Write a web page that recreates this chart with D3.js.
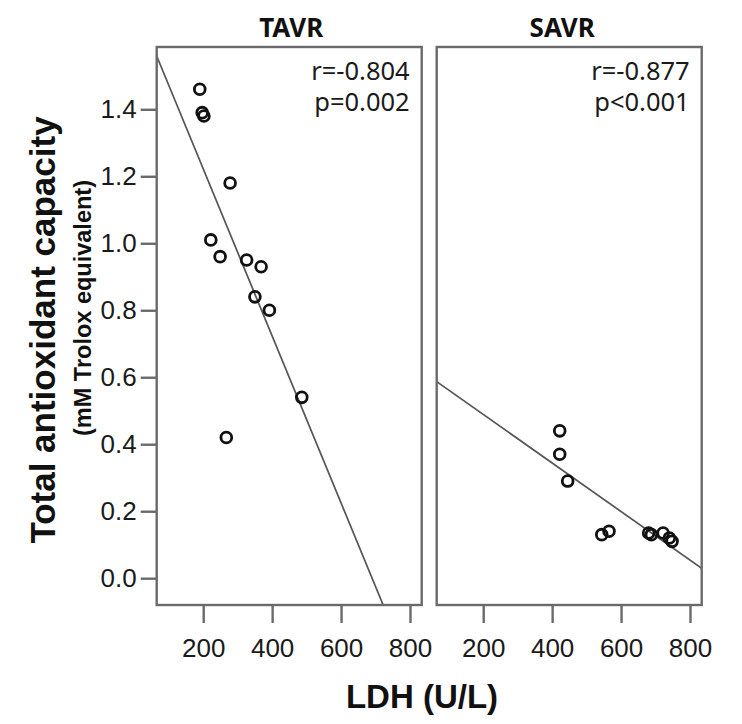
<!DOCTYPE html>
<html>
<head>
<meta charset="utf-8">
<script src="https://cdn.jsdelivr.net/npm/d3@7/dist/d3.min.js"></script>
<style>
	body { margin: 0; background: #fff; }
</style>
</head>
<body>
<div id="chart"></div>
<script>

// values
var panels = ['TAVR', 'SAVR'];

var tavrLdh = [190, 197, 202, 278, 222, 249, 326, 368, 350, 392, 486, 267];
var tavrTac = [1.46, 1.39, 1.38, 1.18, 1.01, 0.96, 0.95, 0.93, 0.84, 0.80, 0.54, 0.42];

var savrLdh = [422, 422, 445, 544, 565, 680, 688, 722, 740, 748];
var savrTac = [0.44, 0.37, 0.29, 0.13, 0.14, 0.135, 0.13, 0.135, 0.12, 0.11];

// fit lines as drawn: intercept, slope
var fitIntercept = [1.721, 0.634];
var fitSlope = [-0.002494, -0.000725];

var statR = ['r=-0.804', 'r=-0.877'];
var statP = ['p=0.002', 'p<0.001'];

var xTicks = [200, 400, 600, 800];
var yTicks = [0.0, 0.2, 0.4, 0.6, 0.8, 1.0, 1.2, 1.4];

var width = 742, height = 724;
var panelW = 265, panelH = 558, panelTop = 47;
var panelLeft = [156.7, 436.7];

var svg = d3.select('#chart').append('svg')
	.attr('width', width)
	.attr('height', height);

var x = d3.scaleLinear().domain([65, 834]).range([0, panelW]);
var y = d3.scaleLinear().domain([-0.08, 1.586]).range([panelH, 0]);

var series = [
	d3.zip(tavrLdh, tavrTac),
	d3.zip(savrLdh, savrTac)
];

panels.forEach(function(name, i) {
	var g = svg.append('g')
		.attr('transform', 'translate(' + panelLeft[i] + ',' + panelTop + ')');

	g.append('clipPath').attr('id', 'clip' + i)
		.append('rect').attr('width', panelW).attr('height', panelH);

	// x axis
	var xa = g.append('g')
		.attr('transform', 'translate(0,' + panelH + ')')
		.call(d3.axisBottom(x).tickValues(xTicks).tickSize(18).tickPadding(16).tickFormat(d3.format('d')));
	xa.select('.domain').remove();
	xa.selectAll('line').attr('stroke', '#6a6a6a').attr('stroke-width', 2.4);
	xa.selectAll('text')
		.attr('font-family', 'Liberation Sans, Arial, sans-serif')
		.attr('font-size', 26).attr('fill', '#1a1a1a');

	if (i === 0) {
		var ya = g.append('g')
			.call(d3.axisLeft(y).tickValues(yTicks).tickSize(16).tickPadding(4).tickFormat(d3.format('.1f')));
		ya.select('.domain').remove();
		ya.selectAll('line').attr('stroke', '#6a6a6a').attr('stroke-width', 2.4);
		ya.selectAll('text')
			.attr('font-family', 'Liberation Sans, Arial, sans-serif')
			.attr('font-size', 26).attr('fill', '#1a1a1a');
	}

	// fit line
	var dom = x.domain();
	g.append('line')
		.attr('clip-path', 'url(#clip' + i + ')')
		.attr('x1', x(dom[0])).attr('y1', y(fitIntercept[i] + fitSlope[i] * dom[0]))
		.attr('x2', x(dom[1])).attr('y2', y(fitIntercept[i] + fitSlope[i] * dom[1]))
		.attr('stroke', '#555').attr('stroke-width', 1.7);

	g.selectAll('circle')
		.data(series[i])
		.enter().append('circle')
		.attr('cx', function(d) { return x(d[0]); })
		.attr('cy', function(d) { return y(d[1]); })
		.attr('r', 5.4)
		.attr('fill', 'none')
		.attr('stroke', '#111')
		.attr('stroke-width', 2.8);

	// frame
	g.append('rect')
		.attr('width', panelW).attr('height', panelH)
		.attr('fill', 'none')
		.attr('stroke', '#6a6a6a')
		.attr('stroke-width', 2.4);

	g.append('text')
		.attr('x', panelW - 12).attr('y', 33)
		.attr('text-anchor', 'end')
		.attr('font-family', 'Noto Sans, sans-serif')
		.attr('font-size', 25.5).attr('fill', '#1a1a1a')
		.text(statR[i]);
	g.append('text')
		.attr('x', panelW - 12).attr('y', 64)
		.attr('text-anchor', 'end')
		.attr('font-family', 'Noto Sans, sans-serif')
		.attr('font-size', 25.5).attr('fill', '#1a1a1a')
		.text(statP[i]);

	g.append('text')
		.attr('x', panelW / 2 + (i === 0 ? 2 : -7)).attr('y', -10)
		.attr('text-anchor', 'middle')
		.attr('font-family', 'Noto Sans, sans-serif')
		.attr('font-weight', 'bold')
		.attr('font-size', 26).attr('fill', '#111')
		.text(name);
});

// axis titles
svg.append('text')
	.attr('x', 422).attr('y', 708)
	.attr('text-anchor', 'middle')
	.attr('font-family', 'Liberation Sans, Arial, sans-serif')
	.attr('font-weight', 'bold')
	.attr('font-size', 33).attr('fill', '#111')
	.text('LDH (U/L)');

svg.append('text')
	.attr('transform', 'translate(55,330) rotate(-90)')
	.attr('text-anchor', 'middle')
	.attr('font-family', 'Liberation Sans, Arial, sans-serif')
	.attr('font-weight', 'bold')
	.attr('font-size', 35).attr('fill', '#111')
	.text('Total antioxidant capacity');

svg.append('text')
	.attr('transform', 'translate(91,308) rotate(-90)')
	.attr('text-anchor', 'middle')
	.attr('font-family', 'Liberation Sans, Arial, sans-serif')
	.attr('font-weight', 'bold')
	.attr('font-size', 23.5).attr('fill', '#111')
	.text('(mM Trolox equivalent)');

</script>
</body>
</html>
